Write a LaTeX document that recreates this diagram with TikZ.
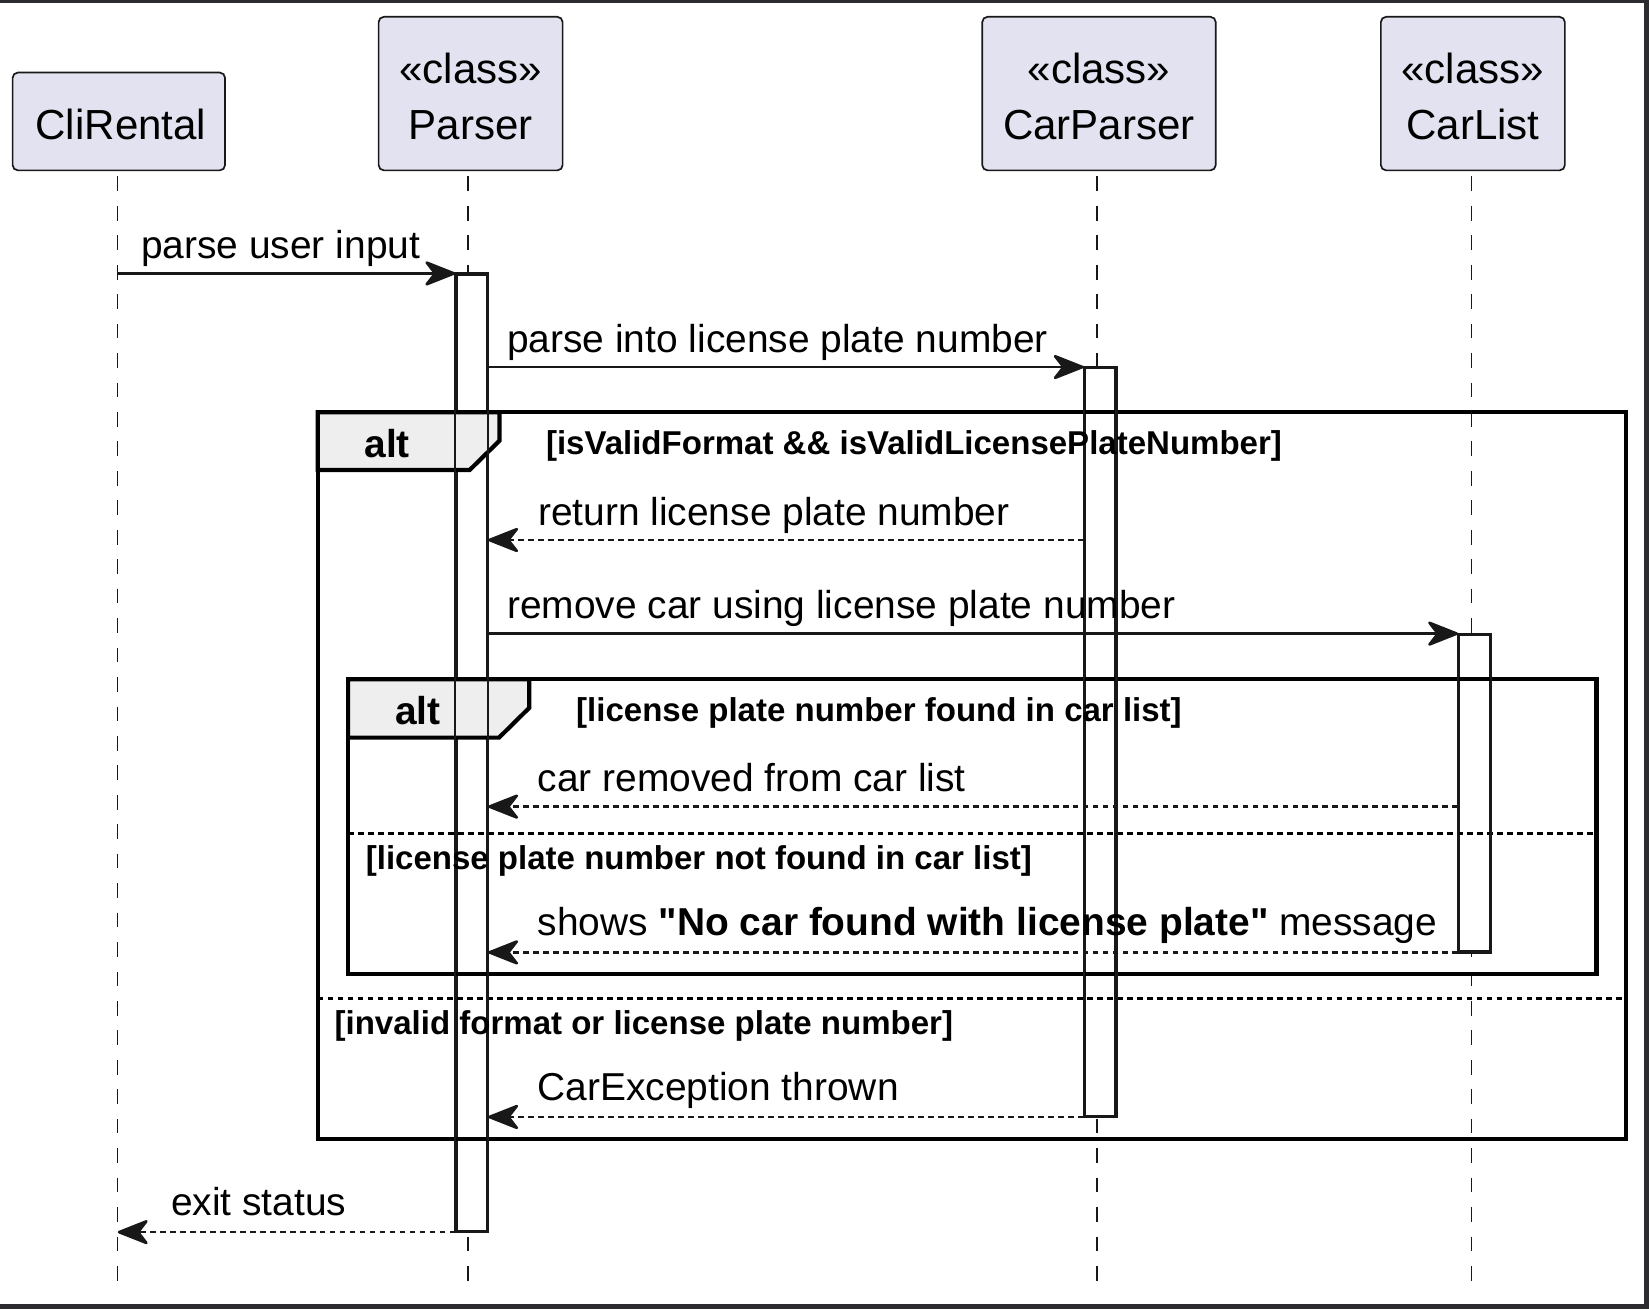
\documentclass[tikz,border=0pt]{standalone}
\usepackage{fontspec}
\setmainfont{Liberation Sans}
\newfontfamily\qfont{Liberation Sans}
\usetikzlibrary{arrows.meta}
\definecolor{partfill}{HTML}{E2E2F0}
\definecolor{tabfill}{HTML}{EEEEEE}
\definecolor{ink}{HTML}{181818}
\definecolor{edgecol}{HTML}{2C2C30}
\newcommand\PartFont{\fontsize{40}{48}\selectfont}
\newcommand\MsgFont{\fontsize{37}{44}\selectfont}
\newcommand\AltFont{\fontsize{37}{44}\selectfont\bfseries}
\newcommand\GuardFont{\fontsize{31.4}{38}\selectfont\bfseries}
\newcommand\StraightQuote{{\qfont\symbol{34}}}
\begin{document}
\begin{tikzpicture}[x=1pt,y=-1pt,
  part/.style={rectangle, draw=ink, line width=1.6pt, fill=partfill, rounded corners=5pt, inner sep=0pt},
  ptext/.style={font=\PartFont, inner sep=0pt, anchor=base},
  life/.style={draw=ink, line width=1.3pt, dash pattern=on 14pt off 14pt},
  act/.style={rectangle, draw=ink, line width=2.1pt, fill=white, inner sep=0pt, minimum width=29pt, anchor=north west},
  actline/.style={draw=ink, line width=2.1pt},
  msg/.style={draw=ink, line width=2.5pt, -{Stealth[length=33pt,width=26pt,inset=10pt,round]}},
  ret/.style={msg, dash pattern=on 5.5pt off 4pt},
  mtext/.style={font=\MsgFont, inner sep=0pt, anchor=base west},
  alttext/.style={font=\AltFont, inner sep=0pt, anchor=base west},
  gtext/.style={font=\GuardFont, inner sep=0pt, anchor=base west},
  framebox/.style={draw=black, line width=4pt},
  tab/.style={draw=black, line width=4pt, fill=tabfill, line join=miter},
  sep/.style={draw=black, line width=2.4pt, dash pattern=on 5.5pt off 4pt}]

% canvas and border
\fill[white] (0,0) rectangle (1568,1245);
\useasboundingbox (0,0) rectangle (1568,1245);
\fill[edgecol] (0,0) rectangle (1568,3);
\fill[edgecol] (1563,0) rectangle (1568,1245);
\fill[edgecol] (0,1240) rectangle (1568,1245);

% participants
\node[part, minimum width=202pt, minimum height=93pt] (cli) at (113,115.5) {};
\node[part, minimum width=175pt, minimum height=146pt] (par) at (447.5,89) {};
\node[part, minimum width=222pt, minimum height=146pt] (cpar) at (1045,89) {};
\node[part, minimum width=175pt, minimum height=146pt] (clist) at (1400.5,89) {};

\node[ptext] (cliT) at (115,133) {CliRental};
\node[ptext] (parS) at (447.5,79.5) {«class»};
\node[ptext] (parT) at (447.5,133) {Parser};
\node[ptext] (cparS) at (1045,79.5) {«class»};
\node[ptext] (cparT) at (1045,133) {CarParser};
\node[ptext] (clistS) at (1400.5,79.5) {«class»};
\node[ptext] (clistT) at (1400.5,133) {CarList};

% lifeline ends
\coordinate (cliEnd) at (112,1220);
\coordinate (parEnd) at (445,1220);
\coordinate (cparEnd) at (1043,1220);
\coordinate (clistEnd) at (1399,1220);

\draw[life] ([yshift=-5pt]cliEnd |- cli.south) -- (cliEnd);
\draw[life] ([yshift=-5pt]parEnd |- par.south) -- (parEnd);
\draw[life] ([yshift=-5pt]cparEnd |- cpar.south) -- (cparEnd);
\draw[life] ([yshift=-5pt]clistEnd |- clist.south) -- (clistEnd);

% activation bars
\node[act, minimum height=909.5pt] (actP) at (433,260) {};
\node[act, minimum height=711pt] (actCP) at (1030.5,349) {};
\node[act, minimum height=301pt] (actCL) at (1386.5,602.5) {};

% outer alt frame
\draw[tab] (302,392) -- (475,392) -- (475,419) -- (446.5,447) -- (302,447) -- cycle;
\draw[framebox] (302,392) rectangle (1546,1083.3);
\draw[sep] (302,949.3) -- (1546,949.3);

% inner alt frame
\draw[tab] (331,646) -- (503.3,646) -- (503.3,673) -- (474.5,701.4) -- (331,701.4) -- cycle;
\draw[framebox] (331,646) rectangle (1518,926.4);
\draw[sep] (331,792.4) -- (1518,792.4);

% activation outlines over frames
\draw[actline] (actP.north west) rectangle (actP.south east);
\draw[actline] (actCP.north west) rectangle (actCP.south east);
\draw[actline] (actCL.north west) rectangle (actCL.south east);

% message rows
\coordinate (r3) at (0,513.5);
\coordinate (r5) at (0,767);

\draw[msg] (actP.north west -| cliEnd) -- (actP.north west);
\draw[msg] (actP.east |- actCP.north) -- (actCP.north west);
\draw[ret] (actCP.west |- r3) -- (actP.east |- r3);
\draw[msg] (actP.east |- actCL.north) -- (actCL.north west);
\draw[ret] (actCL.west |- r5) -- (actP.east |- r5);
\draw[ret] (actCL.south west) -- (actP.east |- actCL.south);
\draw[ret] (actCP.south west) -- (actP.east |- actCP.south);
\draw[ret] (actP.south west) -- (actP.south west -| cliEnd);

% message labels
\node[mtext] (t1) at (134,246) {parse user input};
\node[mtext] (t2) at (482,335) {parse into license plate number};
\node[mtext] (t3) at (511.5,499.5) {return license plate number};
\node[mtext] (t4) at (482,588.5) {remove car using license plate number};
\node[mtext] (t5) at (511,753) {car removed from car list};
\node[mtext] (t6) at (511,889.5) {shows \textbf{\StraightQuote No car found with license plate\StraightQuote} message};
\node[mtext] (t7) at (511,1046) {CarException thrown};
\node[mtext] (t8) at (162.6,1155.5) {exit status};

% frame labels
\node[alttext] (alt1) at (346.4,435) {alt};
\node[gtext] (g1) at (519,432.5) {[isValidFormat \&\& isValidLicensePlateNumber]};
\node[alttext] (alt2) at (375.6,688.5) {alt};
\node[gtext] (g2) at (547.7,686) {[license plate number found in car list]};
\node[gtext] (g3) at (347.7,826.5) {[license plate number not found in car list]};
\node[gtext] (g4) at (318,983.3) {[invalid format or license plate number]};
\end{tikzpicture}
\end{document}
